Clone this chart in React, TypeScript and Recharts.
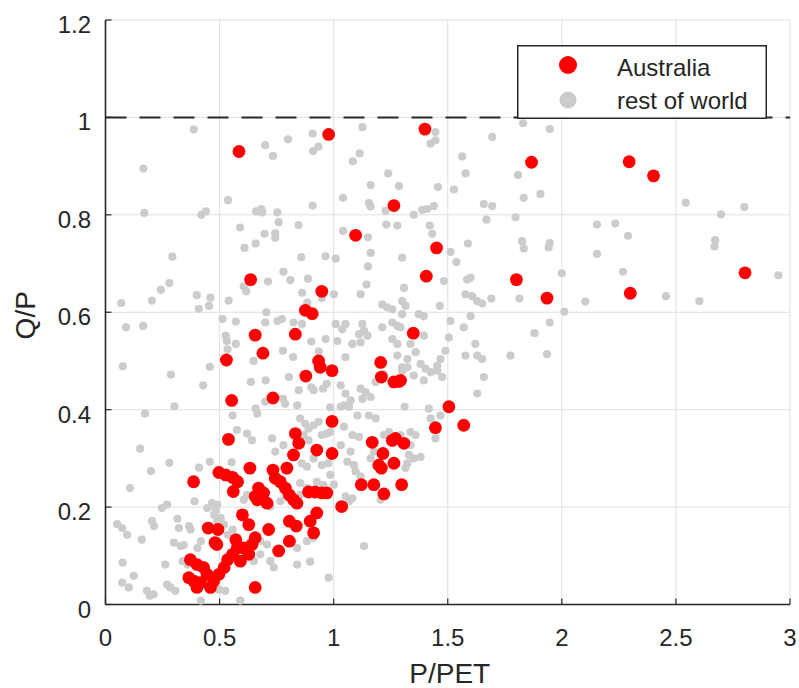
import React from 'react';
import {
  ScatterChart,
  Scatter,
  XAxis,
  YAxis,
  CartesianGrid,
  ReferenceLine,
  Legend,
} from 'recharts';

const xTicks = [0, 0.5, 1, 1.5, 2, 2.5, 3];
const yTicks = [0, 0.2, 0.4, 0.6, 0.8, 1, 1.2];
const seriesNames = ['Australia', 'rest of world'];
const xLabel = 'P/PET';
const yLabel = 'Q/P';
const referenceLevel = 1;

const australia: [number, number][] = [
  [0.585, 0.93], [0.978, 0.965], [0.636, 0.667], [0.948, 0.643], [0.876, 0.604], [0.906, 0.597],
  [0.656, 0.553], [0.832, 0.555], [0.69, 0.516], [0.53, 0.502], [0.934, 0.5], [0.941, 0.487],
  [0.993, 0.48], [0.878, 0.469], [0.553, 0.419], [0.734, 0.424], [0.993, 0.376], [0.539, 0.339],
  [0.832, 0.351], [0.847, 0.331], [0.824, 0.307], [0.926, 0.317], [0.993, 0.31], [0.633, 0.28],
  [0.497, 0.271], [0.527, 0.266], [0.557, 0.261], [0.579, 0.252], [0.56, 0.232], [0.386, 0.252],
  [0.734, 0.276], [0.795, 0.28], [0.744, 0.259], [0.766, 0.252], [0.671, 0.239], [0.693, 0.229],
  [0.656, 0.222], [0.665, 0.215], [0.708, 0.208], [0.788, 0.239], [0.806, 0.225], [0.824, 0.215],
  [0.839, 0.208], [0.89, 0.231], [0.919, 0.231], [0.948, 0.229], [0.97, 0.229], [0.6, 0.184],
  [0.628, 0.164], [0.715, 0.154], [0.656, 0.137], [0.806, 0.171], [0.836, 0.161], [0.926, 0.188],
  [0.897, 0.171], [0.912, 0.147], [0.806, 0.13], [0.759, 0.11], [0.45, 0.157], [0.493, 0.154],
  [0.48, 0.127], [0.488, 0.123], [0.571, 0.133], [0.578, 0.116], [0.557, 0.103], [0.535, 0.092],
  [0.52, 0.076], [0.497, 0.062], [0.606, 0.116], [0.628, 0.103], [0.591, 0.089], [0.642, 0.123],
  [0.372, 0.092], [0.401, 0.082], [0.43, 0.076], [0.365, 0.055], [0.387, 0.048], [0.401, 0.035],
  [0.416, 0.045], [0.445, 0.062], [0.474, 0.048], [0.46, 0.035], [0.656, 0.035],
  [1.4, 0.976], [1.867, 0.908], [1.264, 0.819], [1.096, 0.758], [1.451, 0.732], [1.406, 0.674],
  [1.801, 0.667], [1.935, 0.629],
  [1.349, 0.557], [1.206, 0.497], [1.209, 0.467], [1.264, 0.457], [1.286, 0.458], [1.293, 0.46],
  [1.505, 0.406], [1.446, 0.363], [1.57, 0.368], [1.169, 0.333], [1.257, 0.337], [1.271, 0.341],
  [1.308, 0.331], [1.216, 0.31], [1.264, 0.29], [1.198, 0.286], [1.209, 0.28], [1.121, 0.246],
  [1.176, 0.246], [1.298, 0.246], [1.22, 0.227], [1.035, 0.201],
  [2.295, 0.909], [2.402, 0.88], [2.803, 0.681], [2.3, 0.639],
];

const restOfWorld: [number, number][] = [
  [0.387, 0.975], [0.166, 0.895], [0.17, 0.804], [0.42, 0.8], [0.44, 0.807], [0.537, 0.83],
  [0.7, 0.943], [0.734, 0.921], [0.8, 0.955], [0.908, 0.967], [0.91, 0.931], [0.933, 0.94],
  [0.908, 0.819], [0.66, 0.807], [0.683, 0.812], [0.687, 0.805], [0.753, 0.805], [0.759, 0.785],
  [0.846, 0.779], [0.59, 0.774], [0.697, 0.761], [0.744, 0.762], [0.744, 0.753], [0.658, 0.741],
  [0.609, 0.732], [0.293, 0.714], [0.858, 0.713], [0.964, 0.715], [0.78, 0.683], [0.81, 0.666],
  [0.887, 0.669], [0.712, 0.663], [0.28, 0.66], [0.243, 0.646], [0.069, 0.619], [0.203, 0.624],
  [0.4, 0.635], [0.46, 0.63], [0.454, 0.613], [0.409, 0.607], [0.54, 0.624], [0.606, 0.653],
  [0.617, 0.643], [0.862, 0.64], [0.884, 0.62], [0.949, 0.629], [0.705, 0.6],
  [0.09, 0.569], [0.165, 0.572], [0.076, 0.489], [0.287, 0.472], [0.457, 0.488], [0.428, 0.45],
  [0.302, 0.407], [0.173, 0.392], [0.513, 0.586], [0.571, 0.581], [0.527, 0.552], [0.532, 0.541],
  [0.535, 0.524], [0.571, 0.535], [0.754, 0.582], [0.773, 0.586], [0.824, 0.579], [0.861, 0.576],
  [0.7, 0.579], [0.902, 0.54], [0.778, 0.521], [0.822, 0.508], [0.935, 0.519], [0.965, 0.545],
  [0.649, 0.5], [0.637, 0.457], [0.702, 0.46], [0.804, 0.467], [0.847, 0.44], [0.902, 0.446],
  [0.912, 0.44], [0.953, 0.443], [0.97, 0.453], [0.778, 0.422], [0.787, 0.412], [0.7, 0.416],
  [0.84, 0.409], [0.658, 0.402], [0.665, 0.392], [0.557, 0.388], [0.985, 0.405],
  [0.152, 0.32], [0.28, 0.291], [0.199, 0.274], [0.107, 0.239], [0.41, 0.281], [0.457, 0.293],
  [0.553, 0.292], [0.576, 0.358], [0.62, 0.351], [0.642, 0.337], [0.73, 0.341], [0.78, 0.327],
  [0.744, 0.314], [0.853, 0.382], [0.875, 0.371], [0.89, 0.361], [0.912, 0.368], [0.934, 0.375],
  [0.868, 0.348], [0.89, 0.337], [0.948, 0.348], [0.97, 0.351], [0.985, 0.354], [0.86, 0.29],
  [0.883, 0.283], [0.912, 0.3], [0.948, 0.286], [0.977, 0.29], [0.985, 0.266], [0.853, 0.249],
  [0.883, 0.239], [0.926, 0.252], [0.955, 0.245], [0.853, 0.225], [0.84, 0.212], [0.788, 0.225],
  [0.766, 0.212], [0.705, 0.212], [0.722, 0.201], [0.62, 0.225], [0.606, 0.215], [0.39, 0.212],
  [0.247, 0.198], [0.27, 0.205], [0.467, 0.208], [0.49, 0.205], [0.446, 0.198], [0.483, 0.194],
  [0.051, 0.165], [0.073, 0.157], [0.095, 0.143], [0.204, 0.171], [0.212, 0.161], [0.315, 0.176],
  [0.322, 0.157], [0.366, 0.161], [0.373, 0.154], [0.159, 0.133], [0.3, 0.127], [0.33, 0.12],
  [0.343, 0.122], [0.403, 0.116], [0.418, 0.13], [0.476, 0.184], [0.49, 0.171], [0.505, 0.178],
  [0.52, 0.164], [0.535, 0.143], [0.557, 0.154], [0.075, 0.086], [0.262, 0.082], [0.338, 0.089],
  [0.36, 0.082], [0.124, 0.059], [0.102, 0.035], [0.073, 0.045], [0.182, 0.028], [0.211, 0.021],
  [0.194, 0.018], [0.27, 0.041], [0.284, 0.035], [0.306, 0.028], [0.418, 0.008], [0.591, 0.008],
  [0.46, 0.041], [0.497, 0.031], [0.525, 0.028], [0.65, 0.089], [0.678, 0.103], [0.722, 0.089],
  [0.737, 0.076], [0.84, 0.082], [0.897, 0.088], [0.678, 0.13], [0.708, 0.123], [0.84, 0.116],
  [0.883, 0.13], [0.912, 0.137], [0.978, 0.055],
  [1.126, 0.98], [1.446, 0.97], [1.425, 0.946], [1.446, 0.953], [1.114, 0.926], [1.084, 0.91],
  [1.239, 0.885], [1.162, 0.861], [1.286, 0.859], [1.457, 0.857], [1.041, 0.835], [1.155, 0.824],
  [1.162, 0.817], [1.228, 0.808], [1.351, 0.8], [1.388, 0.81], [1.41, 0.812], [1.439, 0.818],
  [1.231, 0.78], [1.279, 0.778], [1.421, 0.778], [1.432, 0.761], [1.041, 0.767], [1.15, 0.754],
  [1.009, 0.71], [1.162, 0.722], [1.15, 0.694], [1.3, 0.712], [1.512, 0.724], [1.538, 0.703],
  [1.483, 0.664], [1.144, 0.657], [1.118, 0.637], [1.308, 0.65], [1.3, 0.623], [1.315, 0.613],
  [1.213, 0.616], [1.235, 0.61], [1.257, 0.606], [1.465, 0.613], [1.001, 0.637], [1.563, 0.92],
  [1.695, 0.96], [1.578, 0.885], [1.527, 0.852], [1.658, 0.822], [1.695, 0.818], [1.67, 0.79],
  [1.797, 0.795], [1.808, 0.882], [1.833, 0.835], [1.906, 0.843], [1.83, 0.988], [1.947, 0.976],
  [1.588, 0.741], [1.826, 0.746], [1.833, 0.731], [1.947, 0.742], [1.942, 0.733], [1.585, 0.667],
  [1.6, 0.671], [1.578, 0.637], [1.607, 0.633], [1.629, 0.623], [1.651, 0.618], [1.691, 0.628],
  [1.814, 0.628], [2.0, 0.68],
  [1.009, 0.576], [1.052, 0.576], [1.038, 0.565], [1.126, 0.576], [1.133, 0.562], [1.111, 0.555],
  [1.148, 0.552], [1.016, 0.541], [1.082, 0.535], [1.118, 0.538], [1.213, 0.569], [1.257, 0.579],
  [1.279, 0.572], [1.3, 0.596], [1.293, 0.569], [1.373, 0.596], [1.395, 0.592], [1.395, 0.552],
  [1.257, 0.545], [1.279, 0.535], [1.337, 0.535], [1.052, 0.508], [1.279, 0.511], [1.323, 0.504],
  [1.359, 0.518], [1.3, 0.487], [1.323, 0.487], [1.381, 0.494], [1.403, 0.484], [1.425, 0.477],
  [1.454, 0.49], [1.468, 0.504], [1.49, 0.521], [1.505, 0.548], [1.512, 0.582], [1.57, 0.569],
  [1.6, 0.592], [1.578, 0.511], [1.621, 0.535], [1.629, 0.511], [1.651, 0.504], [1.658, 0.467],
  [1.629, 0.433], [1.775, 0.511], [1.88, 0.557], [1.947, 0.579], [1.935, 0.514], [1.031, 0.45],
  [1.052, 0.433], [1.074, 0.419], [1.045, 0.409], [1.118, 0.443], [1.14, 0.436], [1.162, 0.426],
  [1.126, 0.422], [1.031, 0.406], [1.067, 0.406], [1.184, 0.457], [1.22, 0.473], [1.3, 0.48],
  [1.351, 0.47], [1.395, 0.46], [1.454, 0.48], [1.476, 0.467], [1.311, 0.406], [1.417, 0.402],
  [1.425, 0.382], [1.468, 0.388],
  [1.104, 0.388], [1.155, 0.388], [1.184, 0.382], [1.045, 0.365], [1.082, 0.348], [1.111, 0.344],
  [1.031, 0.327], [1.074, 0.314], [1.22, 0.348], [1.242, 0.354], [1.293, 0.348], [1.337, 0.354],
  [1.359, 0.348], [1.337, 0.327], [1.33, 0.307], [1.351, 0.3], [1.381, 0.303], [1.446, 0.341],
  [1.06, 0.293], [1.089, 0.286], [1.096, 0.273], [1.118, 0.263], [1.001, 0.246], [1.176, 0.314],
  [1.162, 0.3], [1.323, 0.29], [1.315, 0.28], [1.052, 0.222], [1.082, 0.218], [1.067, 0.212],
  [1.206, 0.215], [1.133, 0.12],
  [2.543, 0.825], [2.698, 0.801], [2.8, 0.816], [2.154, 0.78], [2.234, 0.782], [2.29, 0.757],
  [2.672, 0.748], [2.669, 0.735], [2.154, 0.72], [2.268, 0.683], [2.949, 0.676], [2.456, 0.633],
  [2.103, 0.622], [2.603, 0.623], [2.011, 0.601],
];

const toRows = (pts: [number, number][]) => pts.map(([x, y]) => ({ x, y }));
const australiaRows = toRows(australia);
const restRows = toRows(restOfWorld);

const FONT = '"Liberation Sans", Arial, Helvetica, sans-serif';
const INK = '#262626';
const RED = '#ff0000';
const GREY = '#cccccc';

const PLOT_LEFT = 105.5;
const PLOT_TOP = 20;
const PLOT_BOTTOM = 604.5;
const PLOT_RIGHT = 790;

const RedDot = (props: any) => {
  const { cx, cy } = props;
  if (cx == null || cy == null) return null;
  return <circle cx={cx} cy={cy} r={6.4} fill={RED} />;
};

const GreyDot = (props: any) => {
  const { cx, cy } = props;
  if (cx == null || cy == null) return null;
  return <circle cx={cx} cy={cy} r={4.1} fill={GREY} />;
};

const XTick = (props: any) => {
  const { x, y, payload } = props;
  return (
    <text x={x} y={y} textAnchor="middle" fill={INK} fontSize={24} fontFamily={FONT}>
      {String(payload.value)}
    </text>
  );
};

const YTick = (props: any) => {
  const { x, y, payload } = props;
  return (
    <text x={x} y={y + 13} textAnchor="end" fill={INK} fontSize={24} fontFamily={FONT}>
      {String(payload.value)}
    </text>
  );
};

const XLabel = () => (
  <text
    x={(PLOT_LEFT + PLOT_RIGHT) / 2 + 2}
    y={683}
    textAnchor="middle"
    fill={INK}
    fontSize={28}
    fontFamily={FONT}
  >
    {xLabel}
  </text>
);

const YLabel = () => {
  const cy = (PLOT_TOP + PLOT_BOTTOM) / 2 + 3;
  return (
    <text
      x={34.5}
      y={cy}
      transform={`rotate(-90, 34.5, ${cy})`}
      textAnchor="middle"
      fill={INK}
      fontSize={28}
      fontFamily={FONT}
    >
      {yLabel}
    </text>
  );
};

const LegendBox = () => (
  <svg width={250} height={74} style={{ display: 'block' }}>
    <rect x={0.75} y={0.75} width={248.5} height={72.5} fill="#ffffff" stroke={INK} strokeWidth={1.5} />
    <circle cx={51} cy={20} r={9} fill={RED} />
    <circle cx={51} cy={55} r={8.5} fill={GREY} />
    <text x={100} y={31} fill={INK} fontSize={24} fontFamily={FONT}>
      {seriesNames[0]}
    </text>
    <text x={100} y={64} fill={INK} fontSize={24} fontFamily={FONT}>
      {seriesNames[1]}
    </text>
  </svg>
);

export default function App() {
  return (
    <div style={{ position: 'absolute', left: 0, top: 0, width: 799, height: 688, background: '#ffffff' }}>
      <ScatterChart
        width={799}
        height={688}
        margin={{ top: PLOT_TOP, right: 799 - PLOT_RIGHT, bottom: 688 - PLOT_BOTTOM - 60, left: PLOT_LEFT - 80 }}
      >
        <CartesianGrid stroke="#e0e0e0" strokeWidth={1} />
        <XAxis
          type="number"
          dataKey="x"
          domain={[0, 3]}
          ticks={xTicks}
          interval={0}
          height={60}
          axisLine={{ stroke: INK, strokeWidth: 1.6 }}
          tickLine={{ stroke: INK, strokeWidth: 1.2 }}
          tickSize={-6}
          tickMargin={47}
          tick={<XTick />}
          label={<XLabel />}
        />
        <YAxis
          type="number"
          dataKey="y"
          domain={[0, 1.2]}
          ticks={yTicks}
          interval={0}
          width={80}
          axisLine={{ stroke: INK, strokeWidth: 1.6 }}
          tickLine={{ stroke: INK, strokeWidth: 1.2 }}
          tickSize={-6}
          tickMargin={20.5}
          tick={<YTick />}
          label={<YLabel />}
        />
        <Scatter
          name={seriesNames[1]}
          data={restRows}
          shape={GreyDot}
          isAnimationActive={false}
        />
        <Scatter
          name={seriesNames[0]}
          data={australiaRows}
          shape={RedDot}
          isAnimationActive={false}
        />
        <ReferenceLine
          y={referenceLevel}
          stroke={INK}
          strokeWidth={2}
          strokeDasharray="21 13"
        />
        <Legend
          layout="horizontal"
          verticalAlign="middle"
          align="center"
          content={<LegendBox />}
          wrapperStyle={{ position: 'absolute', left: 517, top: 45, width: 250, height: 74 }}
        />
      </ScatterChart>
    </div>
  );
}
